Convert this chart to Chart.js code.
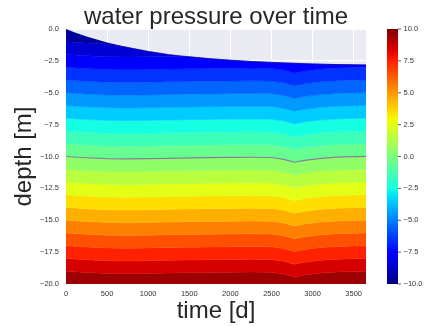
<!DOCTYPE html>
<html>
<head>
<meta charset="utf-8">
<script src="https://cdn.jsdelivr.net/npm/chart.js@4.4.0/dist/chart.umd.min.js"></script>
<style>
  body { margin: 0; background: #fff; }
  #wrap { width: 425px; height: 326px; }
</style>
</head>
<body>
<div id="wrap"><canvas id="pressure" width="425" height="326"></canvas></div>
<script>
// time axis samples [d]
const days = [0, 100, 250, 500, 750, 1000, 1250, 1500, 1750, 2000, 2250, 2500, 2650, 2780, 2900, 3100, 3300, 3500, 3650];
// top of the soil column (settles over time) [m]
const surfaceDepth = [0, -0.25, -0.58, -1.05, -1.44, -1.75, -2.0, -2.18, -2.33, -2.45, -2.55, -2.62, -2.66, -2.69, -2.72, -2.76, -2.79, -2.81, -2.82];
// vertical offset of the contour lines over time [m]
const levelShift = [0, -0.04, -0.1, -0.17, -0.19, -0.17, -0.14, -0.11, -0.09, -0.07, -0.06, -0.08, -0.22, -0.45, -0.3, -0.14, -0.05, -0.01, 0];
// contour levels of the pressure and their depth at t = 0
const pressureLevels = [-10, -9, -8, -7, -6, -5, -4, -3, -2, -1, 0, 1, 2, 3, 4, 5, 6, 7, 8, 9, 10];
const levelDepth0 = [0, -1.0, -2.0, -3.0, -4.0, -5.0, -6.0, -7.0, -8.0, -9.0, -10.0, -11.0, -12.0, -13.0, -14.0, -15.0, -16.0, -17.0, -18.0, -19.0, -20.0];
const depthTicks = [0, -2.5, -5, -7.5, -10, -12.5, -15, -17.5, -20];
const dayTicks = [0, 500, 1000, 1500, 2000, 2500, 3000, 3500];
const colorbarTicks = [-10, -7.5, -5, -2.5, 0, 2.5, 5, 7.5, 10];

const FONT = '"Liberation Sans", Arial, sans-serif';

// matplotlib jet
const jetSeg = {
  r: [[0, 0], [0.35, 0], [0.66, 1], [0.89, 1], [1, 0.5]],
  g: [[0, 0], [0.125, 0], [0.375, 1], [0.64, 1], [0.91, 0], [1, 0]],
  b: [[0, 0.5], [0.11, 1], [0.34, 1], [0.65, 0], [1, 0]]
};
function segVal(pts, v) {
  for (let i = 1; i < pts.length; i++) {
    if (v <= pts[i][0]) {
      const [x0, y0] = pts[i - 1], [x1, y1] = pts[i];
      return y0 + (y1 - y0) * (v - x0) / (x1 - x0);
    }
  }
  return pts[pts.length - 1][1];
}
function jet(v) {
  const r = Math.round(255 * segVal(jetSeg.r, v));
  const g = Math.round(255 * segVal(jetSeg.g, v));
  const b = Math.round(255 * segVal(jetSeg.b, v));
  return `rgb(${r},${g},${b})`;
}
const pMin = pressureLevels[0], pMax = pressureLevels[pressureLevels.length - 1];
function bandColor(k) {
  const mid = (pressureLevels[k] + pressureLevels[k + 1]) / 2;
  return jet((mid - pMin) / (pMax - pMin));
}

function boundary(i) {
  return days.map((d, j) => {
    let y;
    if (i === 0) y = surfaceDepth[j];
    else if (i === pressureLevels.length - 1) y = levelDepth0[i];
    else y = Math.min(levelDepth0[i] + levelShift[j], surfaceDepth[j]);
    return { x: d, y: y };
  });
}

const datasets = [];
// zero pressure line, drawn on top
const zeroIdx = pressureLevels.indexOf(0);
datasets.push({
  data: boundary(zeroIdx),
  borderColor: '#8a7d9e',
  borderWidth: 1.2,
  fill: false,
  pointRadius: 0
});
pressureLevels.forEach((lev, i) => {
  datasets.push({
    data: boundary(i),
    fill: i === 0 ? false : i,
    backgroundColor: i === 0 ? 'rgba(0,0,0,0)' : bandColor(i - 1),
    borderColor: i === 0 ? 'rgba(0,0,0,0)' : bandColor(i - 1),
    borderWidth: 0.6,
    pointRadius: 0
  });
});

const fmt = v => (v < 0 ? '\u2212' : '') + Math.abs(v).toFixed(1);
// keep the tick labels from pushing the plot area around
const noEdgePadding = s => { s.paddingTop = 0; s.paddingBottom = 0; s.paddingLeft = 0; s.paddingRight = 0; };

const background = {
  id: 'background',
  beforeDraw(chart) {
    const { ctx, chartArea: a } = chart;
    ctx.save();
    ctx.fillStyle = '#EAEAF2';
    ctx.fillRect(a.left, a.top, a.right - a.left, a.bottom - a.top);
    ctx.restore();
  }
};

const colorbar = {
  id: 'colorbar',
  afterDraw(chart) {
    const { ctx } = chart;
    const s = chart.scales.cb;
    const x0 = 387, x1 = 398;
    const yTop = s.getPixelForValue(pMax), yBot = s.getPixelForValue(pMin);
    const grad = ctx.createLinearGradient(0, yBot, 0, yTop);
    for (let i = 0; i <= 40; i++) grad.addColorStop(i / 40, jet(i / 40));
    ctx.save();
    ctx.fillStyle = grad;
    ctx.fillRect(x0, yTop, x1 - x0, yBot - yTop);
    ctx.strokeStyle = '#333';
    ctx.lineWidth = 0.8;
    s.ticks.forEach(t => {
      const y = s.getPixelForValue(t.value);
      ctx.beginPath();
      ctx.moveTo(x1, y);
      ctx.lineTo(x1 + 3, y);
      ctx.stroke();
    });
    // title
    ctx.font = '24px ' + FONT;
    ctx.fillStyle = '#262626';
    ctx.textAlign = 'center';
    ctx.textBaseline = 'alphabetic';
    const a = chart.chartArea;
    ctx.fillText('water pressure over time', (a.left + a.right) / 2, 23.5);
    ctx.restore();
  }
};

const tickFont = { family: FONT, size: 7.5 };

new Chart(document.getElementById('pressure'), {
  type: 'line',
  data: { datasets: datasets },
  options: {
    responsive: false,
    animation: false,
    events: [],
    layout: { padding: { top: 29, left: 0, right: 0, bottom: 0 } },
    plugins: { legend: { display: false }, tooltip: { enabled: false } },
    elements: { line: { tension: 0 } },
    scales: {
      x: {
        type: 'linear',
        position: 'bottom',
        min: 0,
        max: 3650,
        afterBuildTicks: s => { s.ticks = dayTicks.map(v => ({ value: v })); },
        ticks: { font: tickFont, color: '#333', padding: 5, maxRotation: 0, callback: v => String(v) },
        grid: { color: '#ffffff', lineWidth: 1, drawTicks: false },
        border: { display: false },
        title: { display: true, text: 'time [d]', font: { family: FONT, size: 24 }, color: '#262626', padding: { top: 0, bottom: 0 } },
        afterFit: s => { noEdgePadding(s); s.height = 42; }
      },
      y: {
        type: 'linear',
        position: 'left',
        min: -20,
        max: 0,
        afterBuildTicks: s => { s.ticks = depthTicks.map(v => ({ value: v })); },
        ticks: { font: tickFont, color: '#333', padding: 7, callback: fmt },
        grid: { color: '#ffffff', lineWidth: 1, drawTicks: false },
        border: { display: false },
        title: { display: true, text: 'depth [m]', font: { family: FONT, size: 24 }, color: '#262626', padding: { top: 10, bottom: 0 } },
        afterFit: s => { noEdgePadding(s); s.width = 66; }
      },
      cb: {
        type: 'linear',
        position: 'right',
        min: pMin,
        max: pMax,
        afterBuildTicks: s => { s.ticks = colorbarTicks.map(v => ({ value: v })); },
        ticks: { font: tickFont, color: '#333', padding: 37.5, callback: fmt },
        grid: { display: false, drawOnChartArea: false, drawTicks: false },
        border: { display: false },
        afterFit: s => { noEdgePadding(s); s.width = 59; }
      }
    }
  },
  plugins: [background, colorbar]
});
</script>
</body>
</html>
